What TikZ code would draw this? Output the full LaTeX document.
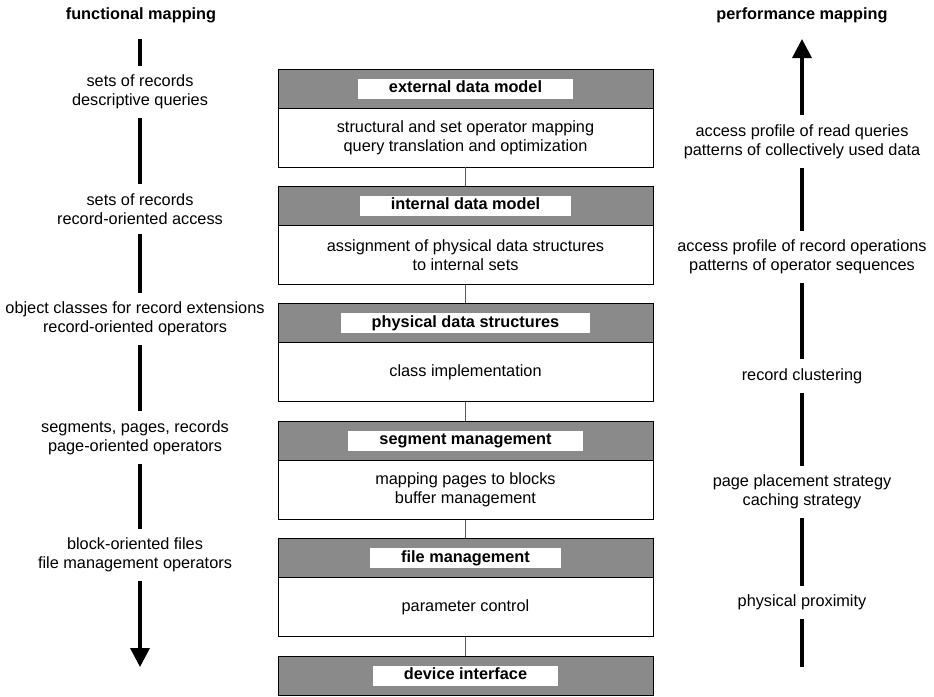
\documentclass[tikz,border=0pt]{standalone}
\usepackage{fontspec}
\setmainfont{Liberation Sans}
\usetikzlibrary{arrows.meta}
\begin{document}
\begin{tikzpicture}[x=1pt,y=-1pt,
  every node/.style={font=\fontsize{16.3}{19}\selectfont, inner sep=0pt},
  hdr/.style={draw=black, line width=0.9pt, fill=black!46, minimum width=375pt, minimum height=39pt},
  hdrlabel/.style={fill=white, inner xsep=31pt, inner ysep=0pt, minimum height=20pt, text height=11.5pt, text depth=3.5pt, font=\fontsize{16.3}{19}\selectfont\bfseries},
  body/.style={draw=black, line width=0.9pt, fill=white, minimum width=375pt, minimum height=59pt, align=center},
  conn/.style={draw=black!65, line width=1.2pt},
  lbl/.style={align=center},
  seg/.style={line width=3.5pt, shorten <=9pt, shorten >=9pt},
  arr/.style={line width=3.5pt, -{Triangle[length=19pt,width=19pt]}},
  ttl/.style={font=\fontsize{16.3}{19}\selectfont\bfseries}
]
\useasboundingbox (0,0) rectangle (934,696);

% titles
\node[ttl] (tf) at (141,15) {functional mapping};
\node[ttl] (tp) at (802,15) {performance mapping};

% central stack
\node[hdr] (h1) at (465.5,88.5) {};
\node[hdrlabel] (h1l) at (h1.center) {external data model};
\node[body] (b1) at (465.5,137.5) {structural and set operator mapping\\query translation and optimization};

\node[hdr] (h2) at (465.5,205.9) {};
\node[hdrlabel] (h2l) at (h2.center) {internal data model};
\node[body] (b2) at (465.5,254.9) {assignment of physical data structures\\to internal sets};

\node[hdr] (h3) at (465.5,323.3) {};
\node[hdrlabel] (h3l) at (h3.center) {physical data structures};
\node[body] (b3) at (465.5,372.3) {class implementation};

\node[hdr] (h4) at (465.5,440.7) {};
\node[hdrlabel] (h4l) at (h4.center) {segment management};
\node[body] (b4) at (465.5,489.7) {mapping pages to blocks\\buffer management};

\node[hdr] (h5) at (465.5,558.1) {};
\node[hdrlabel] (h5l) at (h5.center) {file management};
\node[body] (b5) at (465.5,607.1) {parameter control};

\node[hdr] (h6) at (465.5,675.5) {};
\node[hdrlabel] (h6l) at (h6.center) {device interface};

\draw[conn] (b1.south) -- (h2.north);
\draw[conn] (b2.south) -- (h3.north);
\draw[conn] (b3.south) -- (h4.north);
\draw[conn] (b4.south) -- (h5.north);
\draw[conn] (b5.south) -- (h6.north);

% left column
\node[lbl] (L1) at (140,92) {sets of records\\descriptive queries};
\node[lbl] (L2) at (140,209) {sets of records\\record-oriented access};
\node[lbl] (L3) at (135,319) {object classes for record extensions\\record-oriented operators};
\node[lbl] (L4) at (135,437.5) {segments, pages, records\\page-oriented operators};
\node[lbl] (L5) at (135,555) {block-oriented files\\file management operators};
\coordinate (lt) at (140,39);
\coordinate (lb) at (140,667);

\draw[line width=3.5pt, shorten >=9pt] (lt) -- (L1.north);
\draw[seg] (L1.south) -- (L2.north);
\draw[seg] (L2.south) -- (L3.north -| lt);
\draw[seg] (L3.south -| lt) -- (L4.north -| lt);
\draw[seg] (L4.south -| lt) -- (L5.north -| lt);
\draw[arr, shorten <=9pt] (L5.south -| lt) -- (lb);

% right column
\node[lbl] (R1) at (802,141.5) {access profile of read queries\\patterns of collectively used data};
\node[lbl] (R2) at (802,257) {access profile of record operations\\patterns of operator sequences};
\node[lbl] (R3) at (802,376) {record clustering};
\node[lbl] (R4) at (802,492) {page placement strategy\\caching strategy};
\node[lbl] (R5) at (802,602.5) {physical proximity};
\coordinate (rt) at (802,39);
\coordinate (rb) at (802,667);

\draw[arr, shorten <=9pt] (R1.north) -- (rt);
\draw[seg] (R2.north) -- (R1.south);
\draw[seg] (R3.north) -- (R2.south);
\draw[seg] (R4.north) -- (R3.south);
\draw[seg] (R5.north) -- (R4.south);
\draw[line width=3.5pt, shorten <=9pt] (R5.south) -- (rb);
\end{tikzpicture}
\end{document}
